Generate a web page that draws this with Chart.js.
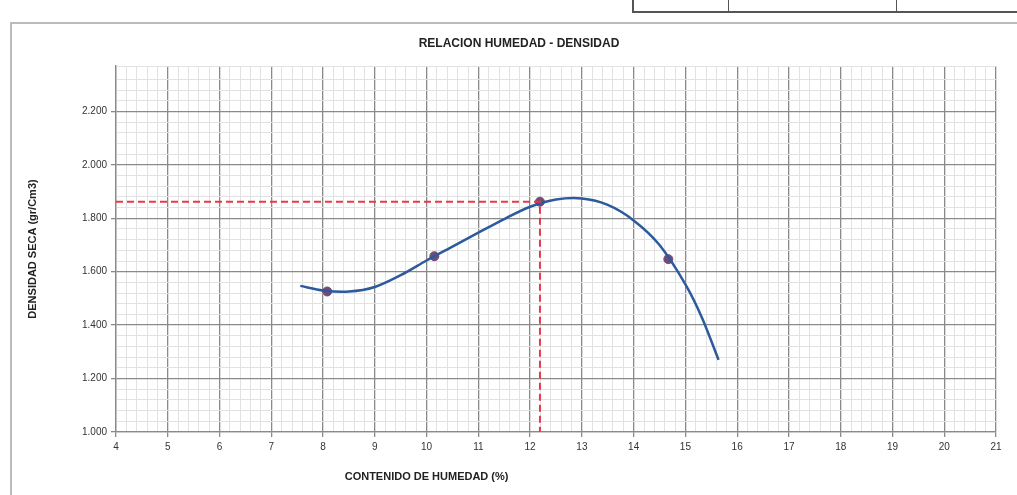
<!DOCTYPE html>
<html>
<head>
<meta charset="utf-8">
<script src="https://cdn.jsdelivr.net/npm/chart.js@4.4.1/dist/chart.umd.min.js"></script>
<style>
    html, body { margin: 0; padding: 0; background: #fff; overflow: hidden; }
    #marco { position: absolute; left: 10px; top: 22px; width: 1040px; height: 500px; border-left: 2px solid #bbb; border-top: 2px solid #bbb; }
    #tabla { position: absolute; left: 632px; top: -3px; width: 400px; height: 12px; border: 2px solid #555; }
    #tabla div { position: absolute; top: 0; height: 12px; border-left: 1px solid #555; }
    #grafico { position: absolute; left: 0; top: 0; }
</style>
</head>
<body>
<div id="marco"></div>
<div id="tabla"><div style="left:94px"></div><div style="left:262px"></div></div>
<canvas id="grafico" width="1017" height="495"></canvas>
<script>
// Puntos del ensayo
const humedad = [8.08, 10.15, 12.19, 14.67];
const densidad = [1.526, 1.658, 1.862, 1.647];

// Curva de ajuste
const curvaX = [7.56, 8.0, 8.5, 9.0, 9.5, 10.0, 10.5, 11.0, 11.5, 12.0, 12.5, 13.0, 13.5, 14.0, 14.5, 15.0, 15.32, 15.64];
const curvaY = [1.547, 1.530, 1.526, 1.543, 1.587, 1.642, 1.694, 1.746, 1.797, 1.843, 1.870, 1.874, 1.850, 1.792, 1.700, 1.553, 1.428, 1.270];

// Humedad optima y densidad maxima
const humedadOptima = 12.19;
const densidadMaxima = 1.862;

const ejeX = { min: 4, max: 21 };
const ejeY = { min: 1.0, max: 2.37 };

const titulo = 'RELACION HUMEDAD - DENSIDAD';
const tituloX = 'CONTENIDO DE HUMEDAD (%)';
const tituloY = 'DENSIDAD SECA (gr/Cm3)';

function esMayor(v, paso) {
    return Math.abs(v / paso - Math.round(v / paso)) < 1e-6;
}

const textos = {
    id: 'textos',
    afterDraw(chart) {
        const ctx = chart.ctx;
        const area = chart.chartArea;
        ctx.save();
        ctx.fillStyle = '#222';
        ctx.textAlign = 'center';
        ctx.textBaseline = 'middle';
        ctx.font = 'bold 12px "Liberation Sans Narrow", "Liberation Sans", sans-serif';
        ctx.fillText(titulo, 519, 44);
        ctx.font = 'bold 11px "Liberation Sans Narrow", "Liberation Sans", sans-serif';
        ctx.fillText(tituloX, chart.scales.x.getPixelForValue(10), 477);
        ctx.translate(33, (area.top + area.bottom) / 2);
        ctx.rotate(-Math.PI / 2);
        ctx.fillText(tituloY, 0, 0);
        ctx.restore();
    }
};

document.addEventListener('DOMContentLoaded', function () {
    const ctx = document.getElementById('grafico').getContext('2d');

    const puntos = humedad.map((h, i) => ({ x: h, y: densidad[i] }));
    const curva = curvaX.map((h, i) => ({ x: h, y: curvaY[i] }));
    const guia = [
        { x: ejeX.min, y: densidadMaxima },
        { x: humedadOptima, y: densidadMaxima },
        { x: humedadOptima, y: ejeY.min }
    ];

    new Chart(ctx, {
        type: 'scatter',
        data: {
            datasets: [
                {
                    label: 'guia',
                    data: guia,
                    showLine: true,
                    borderColor: '#e8394a',
                    borderWidth: 2,
                    borderDash: [7, 4],
                    pointRadius: 0,
                    tension: 0
                },
                {
                    label: 'curva',
                    data: curva,
                    showLine: true,
                    borderColor: '#2c5a9c',
                    borderWidth: 2.5,
                    pointRadius: 0,
                    tension: 0.3
                },
                {
                    label: 'ensayo',
                    data: puntos,
                    showLine: false,
                    pointRadius: 4.5,
                    pointBackgroundColor: '#744a78',
                    pointBorderColor: '#744a78'
                }
            ]
        },
        options: {
            responsive: false,
            animation: false,
            layout: { padding: { left: 0, top: 66, right: 21, bottom: 0 } },
            plugins: {
                legend: { display: false },
                tooltip: { enabled: false }
            },
            scales: {
                x: {
                    type: 'linear',
                    min: ejeX.min,
                    max: ejeX.max,
                    afterFit: function (scale) { scale.height = 63; },
                    ticks: {
                        stepSize: 0.2,
                        autoSkip: false,
                        maxRotation: 0,
                        padding: 4,
                        color: '#333',
                        font: { family: '"Liberation Sans Narrow", "Liberation Sans", sans-serif', size: 10 },
                        callback: v => esMayor(v, 1) ? String(Math.round(v)) : ''
                    },
                    grid: {
                        color: c => esMayor(c.tick.value, 1) ? '#8a8a8a' : '#e2e2e2',
                        lineWidth: c => esMayor(c.tick.value, 1) ? 1.3 : 1,
                        tickColor: c => esMayor(c.tick.value, 1) ? '#8a8a8a' : 'rgba(0,0,0,0)',
                        tickLength: 5
                    },
                    border: { color: '#8a8a8a', width: 1.3 }
                },
                y: {
                    type: 'linear',
                    min: ejeY.min,
                    max: ejeY.max,
                    afterFit: function (scale) { scale.width = 116; },
                    ticks: {
                        stepSize: 0.04,
                        autoSkip: false,
                        padding: 4,
                        color: '#333',
                        font: { family: '"Liberation Sans Narrow", "Liberation Sans", sans-serif', size: 10 },
                        callback: v => esMayor(v, 0.2) ? v.toFixed(3) : ''
                    },
                    grid: {
                        color: c => esMayor(c.tick.value, 0.2) ? '#8a8a8a' : '#e2e2e2',
                        lineWidth: c => esMayor(c.tick.value, 0.2) ? 1.3 : 1,
                        tickColor: c => esMayor(c.tick.value, 0.2) ? '#8a8a8a' : 'rgba(0,0,0,0)',
                        tickLength: 5
                    },
                    border: { color: '#8a8a8a', width: 1.3 }
                }
            }
        },
        plugins: [textos]
    });
});
</script>
</body>
</html>
